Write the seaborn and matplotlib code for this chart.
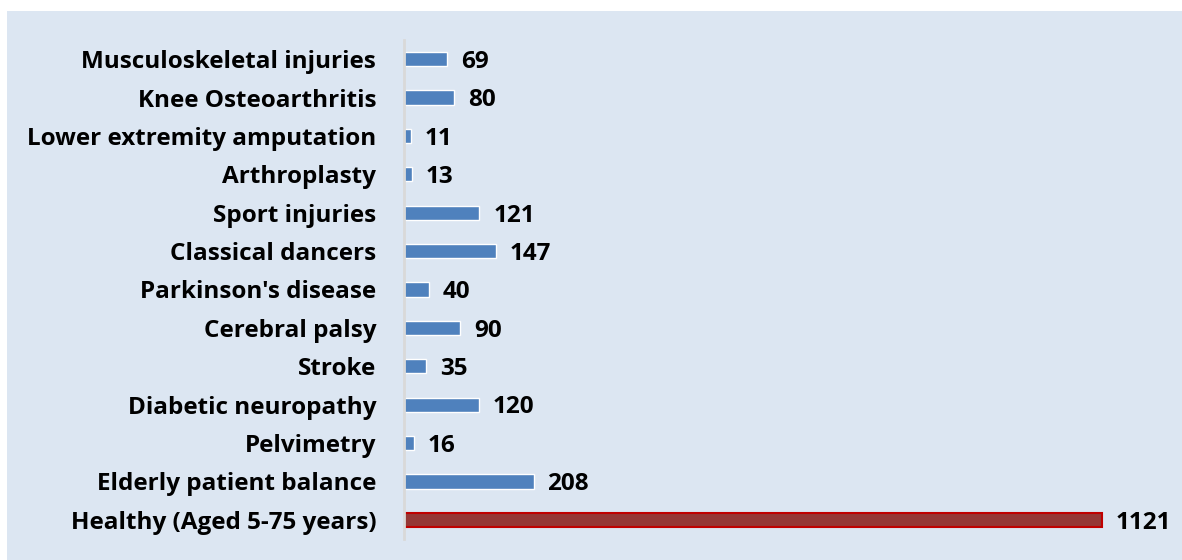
import matplotlib
matplotlib.use('Agg')
import matplotlib.pyplot as plt
import seaborn as sns
import pandas as pd
from matplotlib.patches import Rectangle

categories = [
    'Musculoskeletal injuries', 'Knee Osteoarthritis', 'Lower extremity amputation',
    'Arthroplasty', 'Sport injuries', 'Classical dancers', "Parkinson's disease",
    'Cerebral palsy', 'Stroke', 'Diabetic neuropathy', 'Pelvimetry',
    'Elderly patient balance', 'Healthy (Aged 5-75 years)',
]
counts = [69, 80, 11, 13, 121, 147, 40, 90, 35, 120, 16, 208, 1121]

BLUE = '#4f81bd'
RED = '#953735'
BG = '#dce6f2'

sns.set_theme(style='white')
plt.rcParams['font.family'] = ['Open Sans', 'DejaVu Sans']

df = pd.DataFrame({'group': categories, 'n': counts})
colors = [RED if c == 'Healthy (Aged 5-75 years)' else BLUE for c in categories]

fig = plt.figure(figsize=(11.82, 5.60), dpi=100)
fig.patches.append(Rectangle((7 / 1182, 0), 1, 1 - 11 / 560, transform=fig.transFigure,
                             facecolor=BG, edgecolor='none', zorder=-10))
ax = fig.add_axes([404 / 1182, 21 / 560, 778 / 1182, 499 / 560])
ax.set_facecolor('none')

sns.barplot(data=df, x='n', y='group', hue='group', palette=colors, legend=False,
            width=0.37, orient='h', ax=ax, saturation=1)

healthy_bar = ax.patches[-1]
healthy_bar.set_edgecolor('#c00000')
healthy_bar.set_linewidth(1.5)

for cont in ax.containers:
    for t in ax.bar_label(cont, padding=10, fontsize=17.5, fontweight='bold', color='black'):
        t.xyann = (10, -2)

ax.set_xlim(0, 1121 * 778 / 698)
ax.set_ylim(12.5, -0.5)
ax.set_xlabel('')
ax.set_ylabel('')
ax.set_xticks([])
ax.tick_params(axis='y', length=0, pad=20, labelsize=17.5)
for lbl in ax.get_yticklabels():
    lbl.set_fontweight('bold')
    lbl.set_color('black')

for side in ['top', 'right', 'bottom']:
    ax.spines[side].set_visible(False)
ax.spines['left'].set_color('#d9d9d9')
ax.spines['left'].set_linewidth(2)

fig.savefig('out.png', dpi=100)
